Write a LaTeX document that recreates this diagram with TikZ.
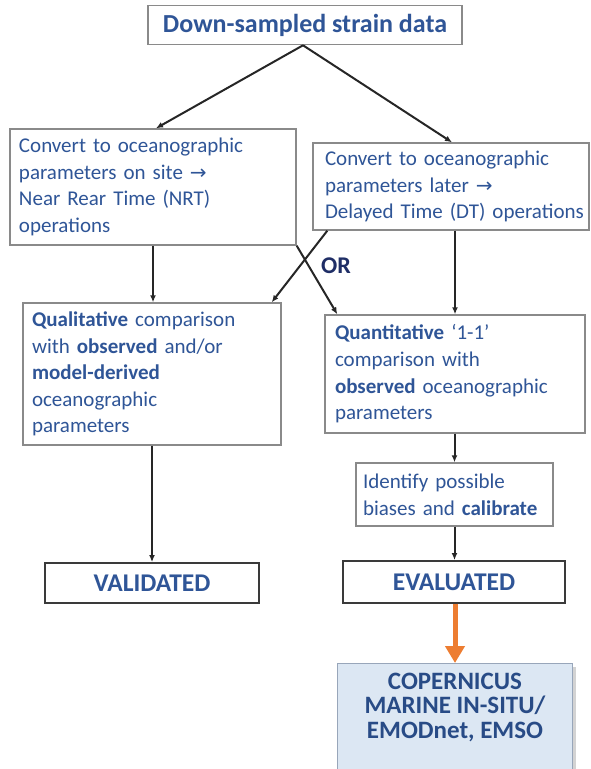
\documentclass[tikz,border=0pt]{standalone}
\usepackage{fontspec}
\setmainfont{Carlito}
\newfontfamily\arrowfont{DejaVu Sans}
\usetikzlibrary{arrows.meta,shadows}
\definecolor{tblue}{HTML}{2F5597}
\definecolor{orblue}{HTML}{1F2E66}
\definecolor{cblue}{HTML}{284B86}
\definecolor{bgray}{HTML}{8A8A8A}
\definecolor{dgray}{HTML}{3A3A3A}
\definecolor{linec}{HTML}{262626}
\definecolor{orangec}{HTML}{ED7D31}
\definecolor{cfill}{HTML}{DCE7F3}
\definecolor{cborder}{HTML}{98A6BA}
\newcommand{\rarr}{{\arrowfont\fontsize{20}{20}\selectfont →}}
\begin{document}
\begin{tikzpicture}[x=1pt,y=-1pt,
  box/.style={draw=bgray, line width=1.4pt, fill=white, text=tblue,
    font=\fontsize{21}{26.6}\selectfont, align=left, inner ysep=0pt},
  titlebox/.style={draw=bgray, line width=1.6pt, fill=white, text=tblue,
    font=\fontsize{26}{30}\selectfont\bfseries, inner sep=0pt},
  resbox/.style={draw=dgray, line width=1.9pt, fill=white, text=tblue,
    font=\fontsize{25.5}{30}\selectfont\bfseries, inner sep=0pt},
  copbox/.style={draw=cborder, line width=1.3pt, fill=cfill,
    drop shadow={shadow xshift=3pt, shadow yshift=-3pt, opacity=0.35, fill=gray}},
  coptext/.style={text=cblue, font=\fontsize{25}{24.5}\selectfont\bfseries, align=center, inner sep=0pt},
  conn/.style={draw=linec, line width=2pt, -{Latex[length=7pt,width=6pt]}},
  bigarrow/.style={draw=orangec, line width=5pt, -{Triangle[length=17pt,width=19pt]}},
  ortext/.style={text=orblue, font=\fontsize{24}{28}\selectfont\bfseries, inner sep=0pt}
]
\useasboundingbox (0,0) rectangle (590,769);

\node[titlebox, minimum width=314pt, minimum height=39pt] (top) at (305,25) {Down-sampled strain data};

\node[box, text width=268pt, inner xsep=9pt, minimum height=116pt] (left1) at (153,187)
  {\mbox{Convert to oceanographic}\\\mbox{parameters on site \rarr}\\\mbox{Near Rear Time (NRT)}\\\mbox{operations}};

\node[box, text width=252pt, inner xsep=12pt, minimum height=87pt] (right1) at (451,186.5)
  {\mbox{Convert to oceanographic}\\\mbox{parameters later \rarr}\\\mbox{Delayed Time (DT) operations}};

\node[box, text width=240pt, inner xsep=9pt, minimum height=142pt] (left2) at (152,374)
  {\mbox{\textbf{Qualitative} comparison}\\\mbox{with \textbf{observed} and/or}\\\mbox{\textbf{model-derived}}\\\mbox{oceanographic}\\\mbox{parameters}};

\node[box, text width=240pt, inner xsep=10pt, minimum height=118pt] (right2) at (455,374)
  {\mbox{\textbf{Quantitative} ‘1-1’}\\\mbox{comparison with}\\\mbox{\textbf{observed} oceanographic}\\\mbox{parameters}};

\node[box, text width=183pt, inner xsep=7pt, minimum height=63pt] (ident) at (454.5,494.5)
  {\mbox{Identify possible}\\\mbox{biases and \textbf{calibrate}}};

\node[resbox, minimum width=214pt, minimum height=40pt] (valid) at (152,583) {VALIDATED};
\node[resbox, minimum width=222pt, minimum height=42pt] (evalu) at (454,582) {EVALUATED};

\node[copbox, minimum width=235pt, minimum height=115pt, anchor=north] (cop) at (455,663) {};
\node[coptext] (coptxt) at (455,707) {COPERNICUS\\MARINE IN-SITU/\\EMODnet, EMSO};

\node[ortext] (or) at (336,266) {OR};

% connectors
\draw[conn] ([xshift=-2pt]top.south) -- ([xshift=3pt]left1.north);
\draw[conn] ([xshift=-2pt]top.south) -- ([xshift=1pt]right1.north);
\draw[conn] (left1.south) -- (left1.south |- left2.north);
\draw[conn] (right2.north |- right1.south) -- (right2.north);
\draw[conn] (left1.south east) -- ([xshift=13pt]right2.north west);
\draw[conn] ([xshift=15pt]right1.south west) -- ([xshift=-10pt]left2.north east);
\draw[conn] (left2.south) -- (left2.south |- valid.north);
\draw[conn] (right2.south -| ident.north) -- (ident.north);
\draw[conn] (ident.south) -- (ident.south |- evalu.north);
\draw[bigarrow] (evalu.south -| cop.north) -- (cop.north);
\end{tikzpicture}
\end{document}
